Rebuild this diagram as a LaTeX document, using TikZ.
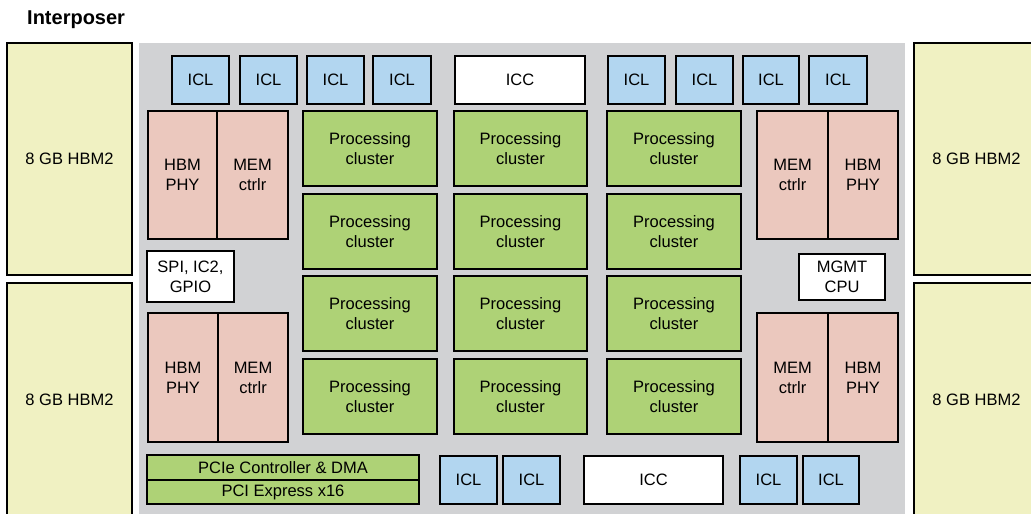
\documentclass[tikz,border=0pt]{standalone}
\usepackage{fontspec}
\setmainfont{Liberation Sans}
\definecolor{chipgray}{HTML}{D1D2D4}
\definecolor{hbmyellow}{HTML}{F0F1C2}
\definecolor{iclblue}{HTML}{B2D6F0}
\definecolor{mempink}{HTML}{EBC8BE}
\definecolor{pcgreen}{HTML}{AED276}
\newcommand{\bx}[7]{\node[#2, minimum width={(#5-#3)*1pt}, minimum height={(#6-#4)*1pt}] (#1) at (#3,#4) {#7};}
\tikzset{
  blk/.style={draw=black, line width=1.3pt, inner sep=0pt, outer sep=0pt, anchor=north west, align=center, font=\fontsize{16.5}{20}\selectfont},
  hbm/.style={blk, fill=hbmyellow, line width=1.8pt},
  icl/.style={blk, fill=iclblue},
  icc/.style={blk, fill=white},
  mem/.style={blk, fill=mempink},
  pc/.style={blk, fill=pcgreen},
}
\begin{document}
\begin{tikzpicture}[x=1pt,y=-1pt]
\useasboundingbox (0,0) rectangle (1031,514);
\clip (0,0) rectangle (1031,514);
\fill[chipgray] (139,43) rectangle (905,520);
\node[font=\bfseries\fontsize{20}{24}\selectfont, anchor=west, inner sep=0pt] (title) at (27,20) {Interposer};
% HBM stacks
\bx{hbmTL}{hbm}{7}{43}{132}{275}{8 GB HBM2}
\bx{hbmBL}{hbm}{7}{283}{132}{517}{8 GB HBM2}
\bx{hbmTR}{hbm}{914}{43}{1039}{275}{8 GB HBM2}
\bx{hbmBR}{hbm}{914}{283}{1039}{517}{8 GB HBM2}
% top row
\bx{t1}{icl}{172}{56}{229}{104}{ICL}
\bx{t2}{icl}{240}{56}{297}{104}{ICL}
\bx{t3}{icl}{307}{56}{364}{104}{ICL}
\bx{t4}{icl}{373}{56}{431}{104}{ICL}
\bx{tc}{icc}{455}{56}{585}{104}{ICC}
\bx{t5}{icl}{608}{56}{665}{104}{ICL}
\bx{t6}{icl}{676}{56}{733}{104}{ICL}
\bx{t7}{icl}{743}{56}{799}{104}{ICL}
\bx{t8}{icl}{809}{56}{867}{104}{ICL}
% memory blocks
\bx{phyTL}{mem}{148}{111}{217}{239}{HBM\\PHY}
\bx{memTL}{mem}{217}{111}{288}{239}{MEM\\ctrlr}
\bx{phyBL}{mem}{148}{313}{218}{442}{HBM\\PHY}
\bx{memBL}{mem}{218}{313}{288}{442}{MEM\\ctrlr}
\bx{memTR}{mem}{757}{111}{828}{239}{MEM\\ctrlr}
\bx{phyTR}{mem}{828}{111}{898}{239}{HBM\\PHY}
\bx{memBR}{mem}{757}{313}{828}{442}{MEM\\ctrlr}
\bx{phyBR}{mem}{828}{313}{898}{442}{HBM\\PHY}
% misc
\bx{spi}{icc}{147}{251}{234}{302}{SPI, IC2,\\GPIO}
\bx{mgmt}{icc}{799}{254}{885}{300}{MGMT\\CPU}
% processing clusters
\bx{p11}{pc}{303}{111}{437}{186}{Processing\\cluster}
\bx{p12}{pc}{454}{111}{587}{186}{Processing\\cluster}
\bx{p13}{pc}{607}{111}{741}{186}{Processing\\cluster}
\bx{p21}{pc}{303}{194}{437}{269}{Processing\\cluster}
\bx{p22}{pc}{454}{194}{587}{269}{Processing\\cluster}
\bx{p23}{pc}{607}{194}{741}{269}{Processing\\cluster}
\bx{p31}{pc}{303}{276}{437}{351}{Processing\\cluster}
\bx{p32}{pc}{454}{276}{587}{351}{Processing\\cluster}
\bx{p33}{pc}{607}{276}{741}{351}{Processing\\cluster}
\bx{p41}{pc}{303}{359}{437}{434}{Processing\\cluster}
\bx{p42}{pc}{454}{359}{587}{434}{Processing\\cluster}
\bx{p43}{pc}{607}{359}{741}{434}{Processing\\cluster}
% PCIe
\bx{pcie}{pc}{147}{455}{419}{480}{PCIe Controller \& DMA}
\bx{pcix}{pc}{147}{480}{419}{504}{PCI Express x16}
% bottom row
\bx{b1}{icl}{440}{456}{497}{504}{ICL}
\bx{b2}{icl}{503}{456}{560}{504}{ICL}
\bx{bc}{icc}{584}{456}{723}{504}{ICC}
\bx{b3}{icl}{740}{456}{797}{504}{ICL}
\bx{b4}{icl}{803}{456}{859}{504}{ICL}
\end{tikzpicture}
\end{document}
